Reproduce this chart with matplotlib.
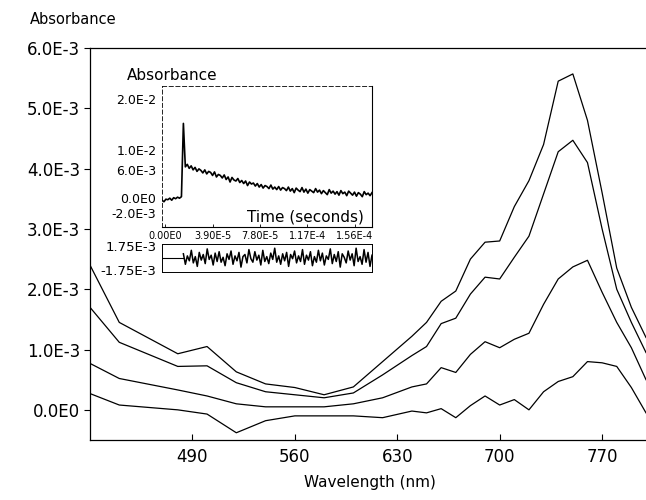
"""Transient absorption spectra with kinetic trace inset"""

import matplotlib
matplotlib.use("Agg")
import matplotlib.pyplot as plt
import matplotlib.transforms as mtransforms
import numpy as np

plt.rcParams["font.family"] = ["DejaVu Sans"]

# --- main spectra (absorbance in units of 1E-3) ---
wavelength = [420, 440, 480, 500, 520, 540, 560, 580, 600, 620, 640, 650, 660, 670,
              680, 690, 700, 710, 720, 730, 740, 750, 760, 770, 780, 790, 800]
spec_a = [2.40, 1.45, 0.93, 1.05, 0.63, 0.43, 0.37, 0.25, 0.38, 0.80, 1.22, 1.45, 1.80, 1.97,
          2.50, 2.78, 2.80, 3.37, 3.80, 4.40, 5.45, 5.57, 4.80, 3.60, 2.35, 1.70, 1.20]
spec_b = [1.70, 1.12, 0.72, 0.73, 0.45, 0.30, 0.25, 0.20, 0.28, 0.58, 0.90, 1.05, 1.43, 1.52,
          1.92, 2.20, 2.17, 2.53, 2.88, 3.58, 4.28, 4.47, 4.10, 3.00, 2.00, 1.45, 0.95]
spec_c = [0.77, 0.52, 0.33, 0.23, 0.10, 0.05, 0.05, 0.05, 0.10, 0.20, 0.38, 0.43, 0.70, 0.62,
          0.92, 1.13, 1.03, 1.17, 1.27, 1.75, 2.17, 2.37, 2.48, 1.95, 1.45, 1.03, 0.50]
spec_d = [0.27, 0.08, 0.00, -0.07, -0.38, -0.18, -0.10, -0.10, -0.10, -0.13, -0.02, -0.05, 0.02, -0.13,
          0.07, 0.23, 0.08, 0.17, 0.00, 0.30, 0.47, 0.55, 0.80, 0.78, 0.72, 0.37, -0.05]

y_ticks = [0.0, 1.0, 2.0, 3.0, 4.0, 5.0, 6.0]
y_tick_labels = ["0.0E0", "1.0E-3", "2.0E-3", "3.0E-3", "4.0E-3", "5.0E-3", "6.0E-3"]
x_ticks = [490, 560, 630, 700, 770]

# --- inset kinetic trace (absorbance in units of 1E-3), sampled uniformly in time ---
trace_start = -2.5e-6
trace_end = 1.70e-4
trace_pre = [0.0, -0.3, 0.2, 0.1, 0.4, 0.0, 0.5, 0.3, 0.6, 0.4, 0.7]
trace_spike = [15.2]
trace_decay = [6.6, 7.1, 6.3, 6.8, 6.0, 6.5, 5.7, 6.2, 5.9, 5.4, 6.0, 5.2, 5.7, 5.5, 4.9, 5.6, 4.6, 5.1,
               4.9, 4.4, 5.0, 4.1, 4.6, 3.6, 4.5, 4.0, 3.8, 4.3, 3.5, 3.9, 3.3, 3.8, 2.9, 3.6, 3.2,
               3.4, 2.8, 3.3, 2.6, 3.1, 2.4, 2.9, 2.7, 2.3, 3.0, 2.2, 2.6, 2.1, 2.7, 2.0, 2.5, 2.3,
               1.9, 2.6, 1.8, 2.3, 1.5, 2.4, 2.0, 1.7, 2.5, 1.6, 2.2, 1.4, 2.1, 1.8, 1.5, 2.3, 1.6,
               2.0, 1.3, 1.9, 1.5, 1.1, 2.1, 1.4, 1.8, 1.2, 1.7, 1.0, 1.9, 1.3, 1.6, 0.9, 1.8, 1.4,
               1.0, 1.6, 0.8, 1.5, 1.2, 0.7, 1.7, 1.1, 1.4, 0.9, 1.5]
trace = trace_pre + trace_spike + trace_decay

residual = [0.6, -0.9, 0.3, -0.4, 1.1, -0.7, 0.2, -1.2, 0.8, -0.3, 0.5, -0.8, 1.3, -0.2, 0.4, -1.0, 0.7, -0.5,
            0.9, -0.6, 0.1, -1.1, 0.6, -0.2, 1.0, -0.9, 0.3, -0.4, 0.8, -1.3, 0.2, 0.5, -0.7, 1.2, -0.1,
            -0.6, 0.9, -0.3, 0.4, -1.0, 1.1, -0.5, 0.2, -0.8, 0.7, -0.2, 1.4, -0.6, 0.3, -0.9, 0.6, -0.4,
            0.8, -1.2, 0.5, -0.1, 1.0, -0.7, 0.3, -0.5, 1.2, -0.9, 0.4, -0.3, 0.9, -1.1, 0.2,
            -0.6, 1.1, -0.4, 0.7, -1.0, 0.3, -0.2, 1.3, -0.8, 0.5, -0.5, 0.9, -1.3, 0.6, 0.1, -0.7,
            1.0, -0.3, 0.6, -1.1, 1.4, -0.5, 0.2, -0.9, 1.2, -0.6, 0.8, -1.2, 0.4]

inset_y_ticks = [-2.0, 0.0, 6.0, 10.0, 20.0]
inset_y_labels = ["-2.0E-3", "0.0E0", "6.0E-3", "1.0E-2", "2.0E-2"]
time_ticks = [0.0, 3.9e-5, 7.8e-5, 1.17e-4, 1.56e-4]
time_labels = ["0.00E0", "3.90E-5", "7.80E-5", "1.17E-4", "1.56E-4"]
resid_ticks = [-1.75, 1.75]
resid_labels = ["-1.75E-3", "1.75E-3"]

fig = plt.figure(figsize=(6.46, 5.0), dpi=100)

# main axes
ax = fig.add_axes([90 / 646, 60 / 500, 556 / 646, 392 / 500])
for s in [spec_a, spec_b, spec_c, spec_d]:
    ax.plot(wavelength, s, color="black", lw=0.9)
ax.set_xlim(420, 800)
ax.set_ylim(-0.5, 6.0)
ax.set_xticks(x_ticks)
ax.set_yticks(y_ticks)
ax.set_yticklabels(y_tick_labels)
ax.spines["right"].set_visible(False)
for sp in ["left", "top", "bottom"]:
    ax.spines[sp].set_linewidth(0.9)
ax.tick_params(axis="y", direction="out", length=4, width=0.8, pad=3, labelsize=12)
ax.tick_params(axis="x", direction="in", length=4, width=0.8, pad=6, labelsize=12)

fig.text(30 / 646, 1 - 20 / 500, "Absorbance", ha="left", va="center", fontsize=10.5)
fig.text(370 / 646, 1 - 483 / 500, "Wavelength (nm)", ha="center", va="center", fontsize=11)

# inset kinetic trace
ax_in = fig.add_axes([162 / 646, 1 - 227 / 500, 210 / 646, 141 / 500])
t = np.linspace(trace_start, trace_end, len(trace))
ax_in.plot(t, trace, color="black", lw=1.2)
ax_in.set_xlim(trace_start, trace_end)
ax_in.set_ylim(-5.3, 22.6)
ax_in.set_yticks(inset_y_ticks)
ax_in.set_yticklabels(inset_y_labels)
ax_in.set_xticks(time_ticks)
ax_in.set_xticklabels(time_labels)
ax_in.tick_params(axis="y", length=0, pad=4, labelsize=9)
ax_in.tick_params(axis="x", direction="in", length=2, width=0.6, pad=3, labelsize=7)
# the two lowest labels sit a little apart, as in the original plot
for lab, dy in zip(ax_in.get_yticklabels()[:2], [-3, 2]):
    lab.set_transform(lab.get_transform()
                      + mtransforms.ScaledTranslation(0, dy / 100, fig.dpi_scale_trans))
for sp in ["top", "left"]:
    ax_in.spines[sp].set_linestyle((0, (5, 3)))
    ax_in.spines[sp].set_linewidth(0.6)
for sp in ["right", "bottom"]:
    ax_in.spines[sp].set_linewidth(0.8)
ax_in.text(0.96, 0.07, "Time (seconds)", transform=ax_in.transAxes,
           ha="right", va="center", fontsize=11)
fig.text(127 / 646, 1 - 75 / 500, "Absorbance", ha="left", va="center", fontsize=11)

# residuals below the inset
ax_res = fig.add_axes([162 / 646, 1 - 272 / 500, 210 / 646, 28 / 500])
t_jump = t[len(trace_pre)]
t_res = np.linspace(t_jump, trace_end, len(residual))
ax_res.plot([trace_start, t_jump], [0, 0], color="black", lw=0.8)
ax_res.plot(t_res, residual, color="black", lw=1.1)
ax_res.set_xlim(trace_start, trace_end)
ax_res.set_ylim(-2.0, 2.0)
ax_res.set_xticks([])
ax_res.set_yticks(resid_ticks)
ax_res.set_yticklabels(resid_labels)
ax_res.tick_params(axis="y", length=0, pad=4, labelsize=9.5)
for sp in ax_res.spines.values():
    sp.set_linewidth(0.7)

fig.savefig("out.png", dpi=100)
